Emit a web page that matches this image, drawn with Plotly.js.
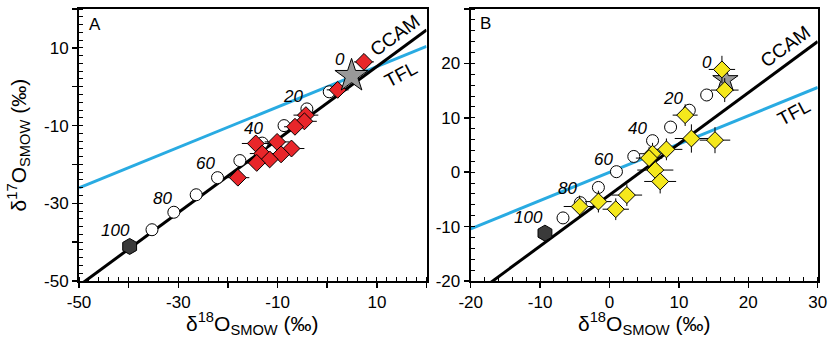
<!DOCTYPE html>
<html><head><meta charset="utf-8">
<script src="https://cdn.plot.ly/plotly-3.0.1.min.js"></script>
<style>body{margin:0;padding:0;background:#fff}#chart{width:830px;height:348px}</style>
</head><body><div id="chart"></div>
<script>
// ---------- Panel A data ----------
const mixA_x = [0.4, -4.1, -8.7, -13.1, -17.6, -22.1, -26.4, -30.9, -35.3];
const mixA_y = [-1.3, -5.7, -10.0, -14.5, -19.0, -23.4, -27.8, -32.3, -36.8];
const startA = [4.9, 2.8];      // 0 % end member (star)
const endA = [-39.8, -41.1];    // 100 % end member (hexagon)
const redA_x = [7.4, 2.1, -4.3, -4.6, -6.5, -10.1, -14.4, -7.2, -9.3, -13.1, -11.6, -14.2, -18.0];
const redA_y = [6.4, -0.8, -7.3, -8.9, -10.3, -14.2, -14.6, -15.9, -17.4, -17.2, -18.7, -19.6, -23.4];
const redA_ex = [2.0, 2.2, 2.5, 2.5, 2.2, 2.5, 2.8, 2.6, 2.5, 2.5, 2.4, 2.4, 2.3];
const redA_ey = [1.5, 1.5, 1.8, 1.8, 1.6, 1.8, 1.8, 1.8, 1.8, 1.8, 1.8, 1.8, 1.6];

// ---------- Panel B data ----------
const mixB_x = [14.0, 11.5, 8.8, 6.2, 3.5, 1.0, -1.6, -4.2, -6.7];
const mixB_y = [14.2, 11.4, 8.3, 5.8, 2.9, 0.1, -2.8, -5.6, -8.4];
const startB = [16.7, 17.0];
const endB = [-9.3, -11.2];
const yelB_x = [16.2, 16.6, 10.9, 11.8, 15.2, 8.2, 6.2, 5.7, 6.6, 7.3, 2.5, -1.6, 0.9, -4.3];
const yelB_y = [18.9, 15.1, 10.5, 6.2, 5.9, 4.2, 3.4, 2.6, 0.4, -1.7, -4.2, -5.4, -6.8, -6.3];
const yelB_ex = [1.9, 2.0, 1.8, 2.4, 2.2, 2.3, 1.9, 1.9, 2.6, 2.3, 2.2, 1.9, 1.9, 2.3];
const yelB_ey = [2.5, 2.2, 2.0, 2.6, 2.4, 2.0, 2.0, 2.0, 2.2, 2.2, 2.0, 2.0, 2.0, 2.0];

// mixing-line labels
const mixLabels = ['0', '20', '40', '60', '80', '100'];

// reference lines: d17O = slope * d18O + intercept
const ccam = {slope: 0.94, intercept: -4.18};
const tfl = {slope: 0.52, intercept: 0.0};

// axis ticks
const tickA = [-50, -40, -30, -20, -10, 0, 10, 20];
const tickTextA = ['-50', '', '-30', '', '-10', '', '10', ''];
const tickB = [-20, -10, 0, 10, 20, 30];
const tickTextB = ['-20', '-10', '0', '10', '20', '30'];

const rangeA = [-50, 20];
const rangeB = [-20, 30];

function lineTrace(p, range, color, xa, ya) {
  return {x: range, y: range.map(v => p.slope * v + p.intercept), mode: 'lines',
    line: {color: color, width: 3}, xaxis: xa, yaxis: ya, hoverinfo: 'skip'};
}
function circles(x, y, xa, ya) {
  return {x: x, y: y, mode: 'markers', xaxis: xa, yaxis: ya,
    marker: {symbol: 'circle', size: 12, color: '#fff', line: {color: '#000', width: 1}}};
}
function diamonds(x, y, ex, ey, color, xa, ya) {
  return {x: x, y: y, mode: 'markers', xaxis: xa, yaxis: ya,
    error_x: {type: 'data', array: ex, visible: true, color: '#000', thickness: 1, width: 0},
    error_y: {type: 'data', array: ey, visible: true, color: '#000', thickness: 1, width: 0},
    marker: {symbol: 'diamond', size: 13, color: color, line: {color: '#000', width: 1}}};
}
function star(p, size, xa, ya) {
  return {x: [p[0]], y: [p[1]], mode: 'markers', xaxis: xa, yaxis: ya,
    marker: {symbol: 'star', size: size, color: '#999999', line: {color: '#000', width: 1}}};
}
function hexagon(p, xa, ya) {
  return {x: [p[0]], y: [p[1]], mode: 'markers', xaxis: xa, yaxis: ya,
    marker: {symbol: 'hexagon', size: 16, color: '#3a3a3a', line: {color: '#000', width: 1}}};
}

const traces = [
  lineTrace(tfl, rangeA, '#29abe2', 'x', 'y'),
  lineTrace(ccam, rangeA, '#000', 'x', 'y'),
  circles(mixA_x, mixA_y, 'x', 'y'),
  hexagon(endA, 'x', 'y'),
  diamonds(redA_x, redA_y, redA_ex, redA_ey, '#e8262a', 'x', 'y'),
  star(startA, 25, 'x', 'y'),

  lineTrace(tfl, rangeB, '#29abe2', 'x2', 'y2'),
  lineTrace(ccam, rangeB, '#000', 'x2', 'y2'),
  circles(mixB_x, mixB_y, 'x2', 'y2'),
  hexagon(endB, 'x2', 'y2'),
  star(startB, 19, 'x2', 'y2'),
  diamonds(yelB_x, yelB_y, yelB_ex, yelB_ey, '#f5e81c', 'x2', 'y2')
];

const font = {family: 'Arial, "Liberation Sans", sans-serif', color: '#000'};
function axis(range, tv, tt, domain, anchor) {
  return {
    range: range, domain: domain, anchor: anchor,
    tickmode: 'array', tickvals: tv, ticktext: tt,
    ticks: 'outside', ticklen: 5, tickwidth: 1.5, tickcolor: '#000',
    minor: {dtick: 2, tick0: 0, ticks: 'inside', ticklen: 4, tickwidth: 1, tickcolor: '#000'},
    showline: true, mirror: true, linecolor: '#000', linewidth: 2,
    showgrid: false, zeroline: false,
    tickfont: Object.assign({size: 17}, font)
  };
}

const ann = [];
function lab(text, x, y, xr, yr, size, angle, italic) {
  ann.push({text: text, x: x, y: y, xref: xr, yref: yr, showarrow: false,
    xanchor: 'center', yanchor: 'middle',
    textangle: angle || 0,
    font: Object.assign({size: size, style: italic ? 'italic' : 'normal'}, font)});
}
// mixing labels
const labA = [[2.6, 7.1], [-6.8, -2.4], [-14.8, -10.7], [-24.5, -19.7], [-33.2, -28.7], [-42.7, -37.0]];
const labB = [[14.0, 20.1], [9.2, 13.6], [4.1, 8.1], [-0.9, 2.4], [-6.1, -3.0], [-11.7, -8.4]];
mixLabels.forEach((t, i) => { lab(t, labA[i][0], labA[i][1], 'x', 'y', 17, 0, true); });
mixLabels.forEach((t, i) => { lab(t, labB[i][0], labB[i][1], 'x2', 'y2', 17, 0, true); });
lab('CCAM', 13.6, 13.2, 'x', 'y', 19, -36);
lab('TFL', 14.8, 3.2, 'x', 'y', 19, -28);
lab('CCAM', 25.3, 23.2, 'x2', 'y2', 19, -36);
lab('TFL', 26.6, 11.0, 'x2', 'y2', 19, -28);
lab('A', -46.8, 16.0, 'x', 'y', 17, 0);
lab('B', -17.9, 27.4, 'x2', 'y2', 17, 0);
// axis titles
const xTitleText = 'δ<sup>18</sup>O<sub>SMOW</sub> (‰)';
const yTitleText = 'δ<sup>17</sup>O<sub>SMOW</sub> (‰)';
lab(xTitleText, 0.3045, 0.071, 'paper', 'paper', 21, 0);
lab(xTitleText, 0.7762, 0.071, 'paper', 'paper', 21, 0);
lab(yTitleText, 0.022, 0.583, 'paper', 'paper', 21, -90);

const layout = {
  width: 830, height: 348, showlegend: false,
  margin: {l: 0, r: 0, t: 0, b: 0},
  paper_bgcolor: '#fff', plot_bgcolor: '#fff',
  xaxis: axis(rangeA, tickA, tickTextA, [0.0952, 0.5139], 'y'),
  yaxis: axis(rangeA, tickA, tickTextA, [0.1925, 0.974], 'x'),
  xaxis2: axis(rangeB, tickB, tickTextB, [0.5671, 0.9852], 'y2'),
  yaxis2: axis(rangeB, tickB, tickTextB, [0.1925, 0.974], 'x2'),
  annotations: ann
};
Plotly.newPlot('chart', traces, layout, {staticPlot: true, displayModeBar: false});
</script></body></html>
